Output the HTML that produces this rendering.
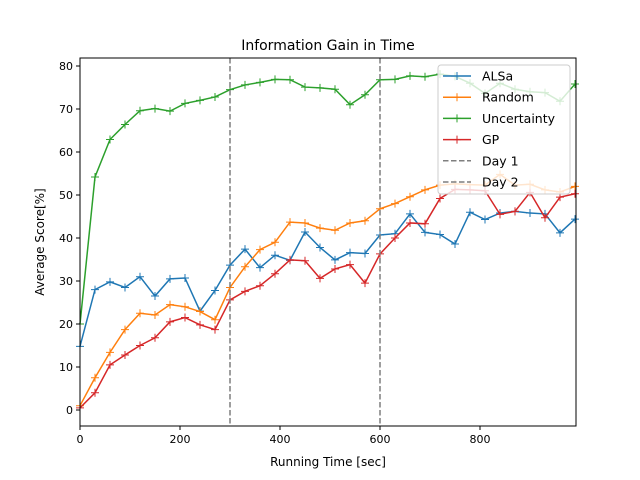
<!DOCTYPE html>
<html><head><meta charset="utf-8"><style>body{margin:0;background:#fff}svg{display:block;font-family:"DejaVu Sans","Liberation Sans",sans-serif}</style></head>
<body>
<svg id="c" width="640" height="480"></svg>
<script>
const times=[];for(let t=0;t<=990;t+=30)times.push(t);
const alsa=[14.8,28,29.8,28.5,31,26.5,30.5,30.7,23,27.8,33.7,37.4,33.1,36,34.8,41.4,37.8,34.9,36.6,36.4,40.7,41,45.6,41.3,40.8,38.6,46,44.3,45.8,46.2,45.8,45.6,41.2,44.4];
const random=[1,7.5,13.4,18.7,22.5,22.1,24.5,24,22.9,21,28.5,33.3,37.3,39,43.7,43.5,42.3,41.8,43.5,44,46.8,48,49.6,51.2,52.3,52.6,52.4,52.3,54.8,52.3,52.5,51.2,50.7,52];
const uncertainty=[20,54.2,62.9,66.4,69.6,70.1,69.5,71.3,72,72.8,74.5,75.6,76.2,76.9,76.8,75.1,74.9,74.6,71,73.3,76.8,76.9,77.7,77.5,78.1,77.6,76,73.6,76,74.6,74,73.8,71.8,75.8];
const gp=[0.5,4,10.5,12.8,15,16.8,20.5,21.5,19.8,18.7,25.6,27.6,28.9,31.7,34.9,34.7,30.6,32.8,33.8,29.5,36.3,40,43.5,43.3,49.2,51.3,51.2,51,45.5,46.2,50.6,44.7,49.5,50.3];
const xTicks=[0,200,400,600,800];
const yTicks=[0,10,20,30,40,50,60,70,80];
const days=[300,600];
const L=80,R=576,T=58,B=426;
const X=v=>L+(v-0)*(R-L)/992;
const Y=v=>410-v*4.3;
const svg=document.getElementById('c');const NS='http://www.w3.org/2000/svg';
function mk(tag,at,txt){const e=document.createElementNS(NS,tag);for(const k in at)e.setAttribute(k,at[k]);if(txt!==undefined)e.textContent=txt;svg.appendChild(e);return e;}
const t=mk('text',{x:328,y:50,'text-anchor':'middle','font-size':'14'},'Information Gain in Time');

const series=[[alsa,'#1f77b4','alsa'],[random,'#ff7f0e','random'],[uncertainty,'#2ca02c','uncertainty'],[gp,'#d62728','gp']];
series.forEach(([d,c,n])=>{
 const p=mk('polyline',{points:d.map((v,i)=>X(times[i])+','+Y(v)).join(' '),fill:'none',stroke:c,'stroke-width':1.5});
 
 d.forEach((v,i)=>{const x=X(times[i]),y=Y(v);
  const m=mk('path',{d:`M${x-4},${y}H${x+4}M${x},${y-4}V${y+4}`,stroke:c,'stroke-width':1});
  });
});
days.forEach((d,i)=>{const l=mk('line',{x1:X(d),x2:X(d),y1:T,y2:B,stroke:'#7f7f7f','stroke-width':1.5,'stroke-dasharray':'5.5,2.5'});
 });
const fr=mk('rect',{x:L,y:T,width:R-L,height:B-T,fill:'none',stroke:'#000','stroke-width':1});

xTicks.forEach(v=>{mk('line',{x1:X(v),x2:X(v),y1:B,y2:B+4,stroke:'#000'});
 const e=mk('text',{x:X(v),y:B+17,'text-anchor':'middle','font-size':'11'},v);
 });
yTicks.forEach(v=>{mk('line',{x1:L-4,x2:L,y1:Y(v),y2:Y(v),stroke:'#000'});
 const e=mk('text',{x:L-7,y:Y(v)+4,'text-anchor':'end','font-size':'11'},v);
 });
const xt=mk('text',{x:328,y:466,'text-anchor':'middle','font-size':'12'},'Running Time [sec]');

const yt=mk('text',{x:44,y:242,'text-anchor':'middle','font-size':'12',transform:'rotate(-90 44 242)'},'Average Score[%]');

const lg=mk('rect',{x:438,y:65,width:132,height:129,rx:3,fill:'rgba(255,255,255,0.8)',stroke:'#ccc'});

const ents=[['ALSa','#1f77b4',0],['Random','#ff7f0e',0],['Uncertainty','#2ca02c',0],['GP','#d62728',0],['Day 1','#7f7f7f',1],['Day 2','#7f7f7f',1]];
ents.forEach(([n,c,dash],i)=>{const y=76+i*21.2;
 mk('line',{x1:443,x2:471,y1:y,y2:y,stroke:c,'stroke-width':1.5,'stroke-dasharray':dash?'5.5,2.5':'none'});
 if(!dash)mk('path',{d:`M457,${y-4}V${y+4}M453,${y}H461`,stroke:c});
 const e=mk('text',{x:482,y:y+4.5,'font-size':'12.5'},n);
 });
</script>
</body></html>
